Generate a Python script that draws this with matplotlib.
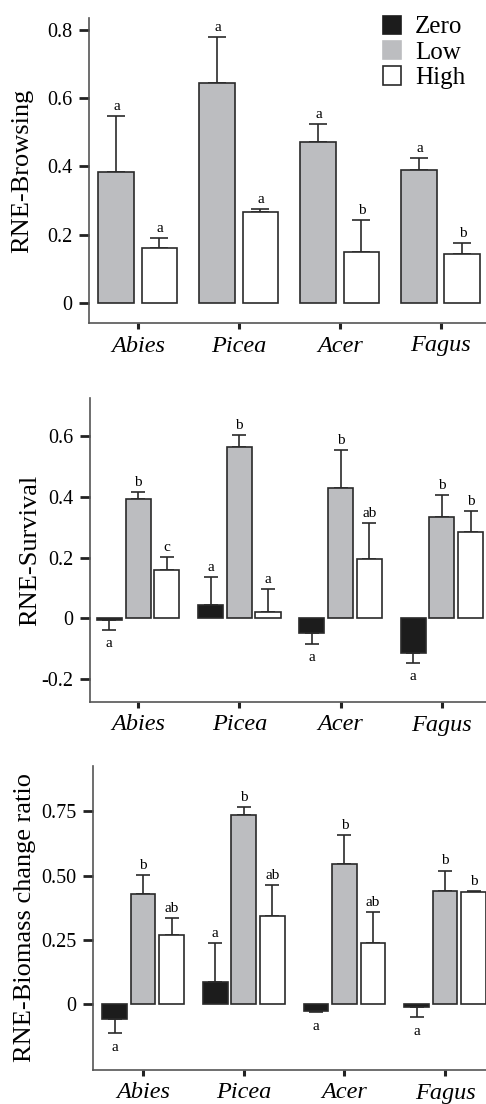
import matplotlib
matplotlib.use("Agg")
import matplotlib.pyplot as plt
from matplotlib.patches import Patch
import numpy as np

plt.rcParams['font.family'] = ['Liberation Serif', 'DejaVu Serif']

species = ["Abies", "Picea", "Acer", "Fagus"]
groups = ["Zero", "Low", "High"]

# Panel 1: RNE-Browsing (no Zero treatment)
brow_low = [0.385, 0.644, 0.473, 0.390]
brow_low_err = [0.163, 0.134, 0.052, 0.035]
brow_high = [0.160, 0.267, 0.149, 0.144]
brow_high_err = [0.030, 0.008, 0.094, 0.032]
brow_low_let = ["a", "a", "a", "a"]
brow_high_let = ["a", "a", "b", "b"]

# Panel 2: RNE-Survival
surv_zero = [-0.007, 0.043, -0.049, -0.116]
surv_zero_err = [0.031, 0.093, 0.035, 0.031]
surv_low = [0.392, 0.566, 0.431, 0.333]
surv_low_err = [0.026, 0.040, 0.125, 0.075]
surv_high = [0.159, 0.021, 0.194, 0.283]
surv_high_err = [0.044, 0.074, 0.121, 0.072]
surv_zero_let = ["a", "a", "a", "a"]
surv_low_let = ["b", "b", "b", "b"]
surv_high_let = ["c", "a", "ab", "b"]

# Panel 3: RNE-Biomass change ratio
bio_zero = [-0.057, 0.085, -0.026, -0.009]
bio_zero_err = [0.056, 0.153, 0.005, 0.041]
bio_low = [0.427, 0.735, 0.547, 0.441]
bio_low_err = [0.077, 0.031, 0.110, 0.079]
bio_high = [0.268, 0.343, 0.238, 0.437]
bio_high_err = [0.067, 0.121, 0.119, 0.004]
bio_zero_let = ["a", "a", "a", "a"]
bio_low_let = ["b", "b", "b", "b"]
bio_high_let = ["ab", "ab", "ab", "b"]

colors = {"Zero": "#1c1c1c", "Low": "#bcbdc0", "High": "#ffffff"}
edge = "#2a2a2a"
spine_c = "#555555"

W, H = 486, 1104
fig = plt.figure(figsize=(W / 100, H / 100), dpi=100)


def axes_px(left, top, right, bottom):
    return fig.add_axes([left / W, 1 - bottom / H, (right - left) / W, (bottom - top) / H])


def draw_bars(ax, xs, vals, errs, letters, color, width, capsize, ylim):
    xs = np.asarray(xs)
    vals = np.asarray(vals)
    errs = np.asarray(errs)
    ax.bar(xs, vals, width=width, color=color, edgecolor=edge, linewidth=1.2, zorder=2)
    lower = np.where(vals < 0, errs, 0)
    upper = np.where(vals >= 0, errs, 0)
    ax.errorbar(xs, vals, yerr=[lower, upper], fmt="none", ecolor=edge,
                elinewidth=1.2, capsize=capsize, capthick=1.2, zorder=1)
    span = ylim[1] - ylim[0]
    for x, v, e, t in zip(xs, vals, errs, letters):
        if v >= 0:
            ax.text(x, v + e + 0.010 * span, t, ha="center", va="bottom", fontsize=11)
        else:
            ax.text(x, v - e - 0.025 * span, t, ha="center", va="top", fontsize=11)


def style(ax, ylim, xlim, yticks, yticklabels, ylabel, labx):
    ax.set_ylim(*ylim)
    ax.set_xlim(*xlim)
    for s in ["top", "right"]:
        ax.spines[s].set_visible(False)
    for s in ["left", "bottom"]:
        ax.spines[s].set_color(spine_c)
        ax.spines[s].set_linewidth(1.2)
    ax.set_yticks(yticks)
    ax.set_yticklabels(yticklabels, fontsize=14.5)
    ax.set_xticks(range(len(species)))
    ax.set_xticklabels(species, fontsize=17.5, style="italic")
    ax.tick_params(axis="y", length=7, width=2, color="#222222", pad=5)
    ax.tick_params(axis="x", length=4, width=2.2, color="#222222", pad=5)
    ax.set_ylabel(ylabel, fontsize=19)
    ax.yaxis.set_label_coords(labx, 0.5)


x = np.arange(len(species))

# Panel 1
ax1 = axes_px(89, 18, 486, 323)
yl1 = (-0.059, 0.835)
off1, w1 = 0.213, 0.356
draw_bars(ax1, x - off1, brow_low, brow_low_err, brow_low_let, colors["Low"], w1, 6.5, yl1)
draw_bars(ax1, x + off1, brow_high, brow_high_err, brow_high_let, colors["High"], w1, 6.5, yl1)
style(ax1, yl1, (-0.485, 3.446), [0, 0.2, 0.4, 0.6, 0.8], ["0", "0.2", "0.4", "0.6", "0.8"],
      "RNE-Browsing", -0.14)
handles = [Patch(facecolor=colors[g], edgecolor=(edge if g == "High" else colors[g]), linewidth=1.2, label=g)
           for g in groups]
fig.legend(handles=handles, loc="upper left", bbox_to_anchor=(370 / W, 1 - 3 / H),
           frameon=False, fontsize=18, handlelength=0.75, handleheight=0.75,
           handletextpad=0.55, labelspacing=0.1, borderpad=0)

# Panel 2
ax2 = axes_px(90, 398, 486, 702)
yl2 = (-0.277, 0.727)
off2, w2 = 0.283, 0.247
draw_bars(ax2, x - off2, surv_zero, surv_zero_err, surv_zero_let, colors["Zero"], w2, 5, yl2)
draw_bars(ax2, x, surv_low, surv_low_err, surv_low_let, colors["Low"], w2, 5, yl2)
draw_bars(ax2, x + off2, surv_high, surv_high_err, surv_high_let, colors["High"], w2, 5, yl2)
style(ax2, yl2, (-0.474, 3.435), [-0.2, 0, 0.2, 0.4, 0.6], ["-0.2", "0", "0.2", "0.4", "0.6"],
      "RNE-Survival", -0.124)

# Panel 3
ax3 = axes_px(93, 766, 486, 1070)
yl3 = (-0.255, 0.926)
off3, w3 = 0.283, 0.245
draw_bars(ax3, x - off3, bio_zero, bio_zero_err, bio_zero_let, colors["Zero"], w3, 5, yl3)
draw_bars(ax3, x, bio_low, bio_low_err, bio_low_let, colors["Low"], w3, 5, yl3)
draw_bars(ax3, x + off3, bio_high, bio_high_err, bio_high_let, colors["High"], w3, 5, yl3)
style(ax3, yl3, (-0.497, 3.406), [0, 0.25, 0.5, 0.75], ["0", "0.25", "0.50", "0.75"],
      "RNE-Biomass change ratio", -0.145)

fig.savefig("out.png", dpi=100)
